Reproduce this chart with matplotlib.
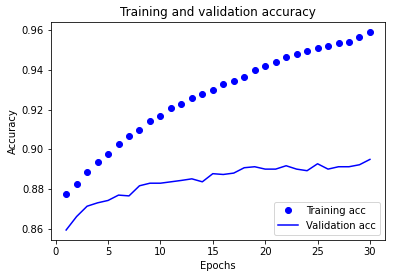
import matplotlib
matplotlib.use("Agg")
import matplotlib.pyplot as plt

epochs = list(range(1, 31))
train_acc = [0.8778, 0.8825, 0.8884, 0.8935, 0.8976, 0.9026, 0.9067, 0.9099, 0.9144, 0.9168,
             0.9208, 0.9229, 0.9259, 0.9280, 0.9300, 0.9330, 0.9345, 0.9366, 0.9401, 0.9421,
             0.9442, 0.9467, 0.9482, 0.9497, 0.9512, 0.9523, 0.9538, 0.9543, 0.9568, 0.9593]
val_acc = [0.8594, 0.8662, 0.8714, 0.8731, 0.8743, 0.8770, 0.8766, 0.8817, 0.8830, 0.8830,
           0.8837, 0.8844, 0.8852, 0.8837, 0.8878, 0.8874, 0.8881, 0.8908, 0.8913, 0.8901,
           0.8901, 0.8918, 0.8901, 0.8893, 0.8928, 0.8901, 0.8913, 0.8913, 0.8923, 0.8950]

fig = plt.figure(figsize=(395/72, 278/72), dpi=72)
ax = fig.add_subplot(111)
fig.subplots_adjust(left=0.129, right=0.975, top=0.921, bottom=0.137)
ax.plot(epochs, train_acc, 'bo', label='Training acc')
ax.plot(epochs, val_acc, 'b', label='Validation acc')
ax.set_title('Training and validation accuracy')
ax.set_xlabel('Epochs')
ax.set_ylabel('Accuracy')
ax.legend(loc='lower right')
fig.savefig('out.png', dpi=72)
